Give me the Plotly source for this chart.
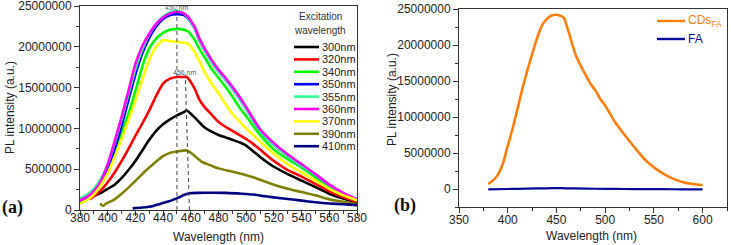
import plotly.graph_objects as go

# ---------------- data: panel (a) ----------------
exc_names = ["300nm", "320nm", "340nm", "350nm", "355nm", "360nm", "370nm", "390nm", "410nm"]
exc_colors = ["#000000", "#FF0000", "#00FF00", "#0000FF", "#33FF99", "#FF00FF", "#FFFF00", "#808000", "#000080"]

x_top = [380, 385, 390, 395, 400, 405, 410, 415, 420, 425, 430, 435, 440, 445, 450, 455, 458, 460, 463, 466,
         470, 475, 480, 485, 490, 495, 500, 505, 510, 520, 530, 540, 550, 560, 570, 580]
y_340 = [1.3, 1.7, 2.3, 3.3, 5.0, 7.2, 9.5, 11.8, 14.6, 17.6, 19.8, 21.0, 21.7, 22.1, 22.2, 22.1, 21.9, 21.5, 20.8, 19.8,
         18.7, 17.3, 16.2, 15.1, 13.9, 12.6, 11.5, 10.3, 9.2, 7.4, 6.2, 5.2, 4.0, 2.8, 1.9, 1.2]
y_350 = [1.0, 1.4, 2.0, 3.1, 4.9, 7.4, 10.3, 13.5, 16.6, 19.2, 21.1, 22.5, 23.4, 23.9, 24.0, 23.9, 23.5, 23.0, 22.2, 20.9,
         19.6, 18.2, 17.0, 16.0, 14.9, 13.7, 12.4, 11.0, 9.7, 8.0, 6.6, 5.4, 4.3, 3.0, 2.0, 1.3]
y_355 = [1.4, 1.9, 2.6, 3.8, 5.6, 8.2, 11.1, 14.2, 17.3, 19.7, 21.5, 22.8, 23.7, 24.2, 24.4, 24.1, 23.6, 23.0, 22.2, 20.9,
         19.6, 18.2, 17.0, 16.0, 14.9, 13.7, 12.4, 11.0, 9.7, 8.0, 6.6, 5.4, 4.3, 3.0, 2.0, 1.3]
y_360 = [1.2, 1.6, 2.3, 3.5, 5.6, 8.4, 11.4, 14.6, 17.9, 20.1, 21.6, 22.8, 23.6, 24.1, 24.3, 24.1, 23.7, 23.2, 22.4, 21.1,
         19.8, 18.4, 17.2, 16.2, 15.1, 13.9, 12.6, 11.2, 9.9, 8.2, 6.8, 5.6, 4.4, 3.1, 2.1, 1.3]
y_370 = [0.8, 1.2, 1.9, 3.0, 4.5, 6.5, 8.7, 11.0, 13.4, 16.0, 18.4, 20.0, 20.8, 20.7, 20.6, 20.5, 20.4, 20.0, 19.3, 18.3,
         16.9, 15.5, 14.3, 13.0, 11.8, 10.9, 10.0, 9.2, 8.4, 6.9, 5.6, 4.6, 3.6, 2.6, 1.8, 1.2]

x_320 = [387, 390, 395, 400, 405, 410, 415, 420, 425, 430, 435, 440, 445, 450, 455, 457, 460, 463, 466, 470,
         475, 480, 485, 490, 495, 500, 505, 510, 520, 530, 540, 550, 560, 570, 580]
y_320 = [1.3, 1.7, 2.4, 3.4, 4.6, 6.0, 7.5, 9.1, 10.6, 12.2, 14.0, 15.5, 16.1, 16.3, 16.3, 16.3, 15.7, 14.8, 13.6, 12.6,
         11.7, 10.8, 10.2, 9.7, 9.2, 8.7, 8.1, 7.4, 6.0, 4.9, 4.1, 3.2, 2.3, 1.6, 1.0]

x_300 = [388, 390, 395, 400, 405, 410, 415, 420, 425, 430, 435, 440, 445, 450, 455, 457, 460, 463, 467, 470,
         475, 480, 485, 490, 495, 500, 505, 510, 520, 530, 540, 550, 560, 570, 580]
y_300 = [1.5, 1.7, 2.1, 2.6, 3.1, 3.9, 4.9, 6.0, 7.3, 8.6, 9.7, 10.5, 11.1, 11.6, 12.0, 12.2, 11.8, 11.3, 10.6, 10.1,
         9.6, 9.2, 8.9, 8.6, 8.3, 7.9, 7.2, 6.5, 5.3, 4.4, 3.6, 2.8, 2.0, 1.4, 0.9]

x_390 = [394.5, 396.5, 399, 404, 410, 416, 422, 428, 434, 440, 445, 451, 457, 461, 465, 468, 474, 480, 490, 497,
         505, 510, 520, 530, 540, 550, 560, 570, 580]
y_390 = [0.8, 0.5, 0.8, 1.2, 2.0, 2.9, 3.9, 4.9, 5.8, 6.6, 7.0, 7.2, 7.3, 6.9, 6.3, 5.9, 5.5, 5.1, 4.7, 4.4,
         4.0, 3.7, 3.1, 2.6, 2.2, 1.8, 1.3, 1.0, 0.7]

x_410 = [418, 425, 433, 438, 443, 448, 452, 456, 459, 465, 475, 485, 497, 505, 513, 520, 530, 540, 550, 560, 570, 580]
y_410 = [0.2, 0.3, 0.5, 0.75, 1.0, 1.3, 1.6, 1.9, 2.05, 2.1, 2.12, 2.1, 2.0, 1.9, 1.7, 1.55, 1.35, 1.15, 0.95, 0.8, 0.7, 0.6]

series_x = [x_300, x_320, x_top, x_top, x_top, x_top, x_top, x_390, x_410]
series_y = [y_300, y_320, y_340, y_350, y_355, y_360, y_370, y_390, y_410]  # in millions

# peak guide lines (nm, top value in millions)
peak_labels = ["450 nm", "456 nm"]
peak_top_x = [450, 456]
peak_bottom_x = [450, 459]
peak_top_y = [24.6, 16.6]
peak_label_y = [24.85, 16.9]

# ---------------- data: panel (b) ----------------
x_cds = [380, 385, 390, 395, 400, 405, 410, 415, 420, 425, 430, 435, 440, 445, 450, 455, 458, 460, 463, 466,
         470, 475, 480, 485, 490, 495, 500, 510, 520, 530, 540, 550, 560, 570, 580, 590, 600]
y_cds = [0.7, 1.2, 2.0, 3.5, 6.0, 8.4, 11.1, 13.9, 16.4, 18.7, 20.9, 22.7, 23.6, 24.1, 24.2, 24.0, 23.7, 22.9, 21.6, 20.2,
         18.5, 17.1, 15.8, 14.6, 13.7, 12.5, 11.6, 9.3, 7.5, 5.8, 4.2, 3.0, 2.1, 1.4, 0.95, 0.7, 0.55]
x_fa = [380, 400, 420, 440, 450, 460, 480, 500, 520, 540, 560, 580, 600]
y_fa = [-0.05, 0.0, 0.05, 0.1, 0.12, 0.1, 0.05, 0.02, 0.0, -0.02, -0.03, -0.04, -0.05]
b_names = ["CDs<sub>FA</sub>", "FA"]
b_colors = ["#FF7F0E", "#0A0A9A"]

yticks_a = [0, 5000000, 10000000, 15000000, 20000000, 25000000]
xticks_a = [380, 400, 420, 440, 460, 480, 500, 520, 540, 560, 580]
yticks_b = [0, 5000000, 10000000, 15000000, 20000000, 25000000]
xticks_b = [350, 400, 450, 500, 550, 600]

W, H = 731, 245
FONT = "Liberation Sans, Arial, sans-serif"
AX = "#333333"


def px(x):
    return x / W


def py(y):
    return 1 - y / H


fig = go.Figure()

for name, col, xs, ys in zip(exc_names, exc_colors, series_x, series_y):
    fig.add_trace(go.Scatter(x=xs, y=[v * 1e6 for v in ys], mode="lines", name=name,
                             line=dict(color=col, width=2.6, shape="spline", smoothing=0.6),
                             xaxis="x", yaxis="y", showlegend=False))

for lab, xt, xb, yt, yl in zip(peak_labels, peak_top_x, peak_bottom_x, peak_top_y, peak_label_y):
    fig.add_trace(go.Scatter(x=[xb, xt], y=[0, yt * 1e6], mode="lines",
                             line=dict(color="#444444", width=1, dash="4px,3px"),
                             xaxis="x", yaxis="y", showlegend=False))
    fig.add_annotation(x=xt, y=yl * 1e6, xref="x", yref="y", text=lab, showarrow=False,
                       xanchor="center", yanchor="middle",
                       font=dict(family=FONT, size=7, color="#555555"))

for name, col, xs, ys, w in zip(b_names, b_colors, [x_cds, x_fa], [y_cds, y_fa], [2.6, 2.2]):
    fig.add_trace(go.Scatter(x=xs, y=[v * 1e6 for v in ys], mode="lines", name=name,
                             line=dict(color=col, width=w, shape="spline", smoothing=0.6),
                             xaxis="x2", yaxis="y2", showlegend=False))


def text(x, y, s, size, color="#222222", family=FONT, xanchor="center", angle=0):
    fig.add_annotation(x=px(x), y=py(y), xref="paper", yref="paper", text=s, showarrow=False,
                       xanchor=xanchor, yanchor="middle", textangle=angle, align="center",
                       font=dict(family=family, size=size, color=color))


# ----- manual legends -----
text(320, 17, "Excitation", 10, "#333333")
text(320, 30, "wavelength", 10, "#333333")
for i, (name, col) in enumerate(zip(exc_names, exc_colors)):
    yy = 47 + i * 12.4
    fig.add_shape(type="line", xref="paper", yref="paper", x0=px(294), x1=px(319), y0=py(yy), y1=py(yy),
                  line=dict(color=col, width=2.6))
    text(320, yy, name, 11, xanchor="left")
for i, (name, col) in enumerate(zip(b_names, b_colors)):
    yy = 21 + i * 18
    fig.add_shape(type="line", xref="paper", yref="paper", x0=px(657), x1=px(685), y0=py(yy), y1=py(yy),
                  line=dict(color=col, width=2.4))
    text(686, yy, name, 12, col, xanchor="left")

# axis titles and panel letters
text(10, 108, "PL intensity (a.u.)", 12, angle=-90)
text(392, 100, "PL intensity (a.u.)", 12, angle=-90)
text(218, 237, "Wavelength (nm)", 12)
text(591, 236, "Wavelength (nm)", 12)
SERIF = "Liberation Serif, Times New Roman, serif"
text(12, 207, "<b>(a)</b>", 18, "#111111", SERIF)
text(405, 205, "<b>(b)</b>", 18, "#111111", SERIF)

tickfont = dict(family=FONT, size=12, color="#222222")
common = dict(showgrid=False, zeroline=False, showline=True, linecolor=AX, linewidth=1, ticks="outside",
              ticklen=5, tickcolor=AX, tickwidth=1, tickfont=tickfont, mirror=True, automargin=False,
              ticklabeloverflow="allow")

fig.update_layout(
    width=W, height=H, margin=dict(l=0, r=0, t=0, b=0, autoexpand=False), paper_bgcolor="white", plot_bgcolor="white",
    xaxis=dict(domain=[px(80), px(357)], range=[380, 580], tickvals=xticks_a, anchor="y", ticklabelstandoff=-8,
               minor=dict(dtick=10, ticklen=3, ticks="outside", tickcolor=AX), **common),
    yaxis=dict(domain=[py(210), py(6)], range=[0, 25000000], tickvals=yticks_a, tickformat="d",
               anchor="x", minor=dict(dtick=2500000, ticklen=3, ticks="outside", tickcolor=AX), **common),
    xaxis2=dict(domain=[px(459), px(727)], range=[350, 625], tickvals=xticks_b, anchor="y2", ticklabelstandoff=-3,
                minor=dict(dtick=25, ticklen=3, ticks="outside", tickcolor=AX), **common),
    yaxis2=dict(domain=[py(207), py(9)], range=[-2500000, 25000000], tickvals=yticks_b, tickformat="d",
                anchor="x2", minor=dict(tick0=0, dtick=2500000, ticklen=3, ticks="outside", tickcolor=AX), **common),
)

fig.write_html("out.html", config={"displayModeBar": False},
               post_script="document.body.style.margin='0';document.body.style.overflow='hidden';")
